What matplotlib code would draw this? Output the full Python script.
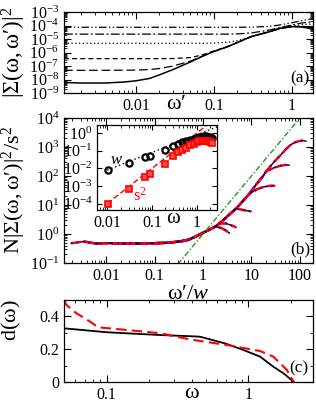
import numpy as np
import matplotlib
matplotlib.use('Agg')
from matplotlib import pyplot as plt
from matplotlib import ticker

plt.rcParams['font.family'] = ['Liberation Serif', 'DejaVu Serif']
plt.rcParams['mathtext.fontset'] = 'custom'
plt.rcParams['mathtext.rm'] = 'Liberation Serif'
plt.rcParams['mathtext.it'] = 'Liberation Serif:italic'
plt.rcParams['mathtext.bf'] = 'Liberation Serif:bold'

# ---------------- panel (a): |Sigma(w,w')|^2 vs w'
a_x = [0.0012, 0.002, 0.004, 0.007, 0.01, 0.015, 0.02, 0.03, 0.05, 0.07,
       0.1, 0.15, 0.2, 0.3, 0.5, 0.7, 1.0, 1.3, 1.6, 1.9]
a_solid = [6e-9, 5.5e-9, 5.5e-9, 6.5e-9, 8e-9, 1.2e-8, 2.2e-8, 5.5e-8, 2e-7, 5e-7,
           1.2e-6, 2.7e-6, 5.5e-6, 1.5e-5, 3.3e-5, 6e-5, 8.2e-5, 8e-5, 6.5e-5, 5e-5]
a_ldash = [4.8e-8, 4.8e-8, 4.8e-8, 4.9e-8, 5e-8, 5.5e-8, 6.5e-8, 1e-7, 2.3e-7, 5.2e-7,
           1.2e-6, 2.7e-6, 5.5e-6, 1.5e-5, 3.3e-5, 6e-5, 8.2e-5, 8.2e-5, 7e-5, 6e-5]
a_dash = [3.5e-7, 3.5e-7, 3.5e-7, 3.5e-7, 3.5e-7, 3.5e-7, 3.5e-7, 3.6e-7, 4.2e-7, 6.5e-7,
          1.3e-6, 2.8e-6, 5.6e-6, 1.5e-5, 3.4e-5, 6.2e-5, 8.5e-5, 8.8e-5, 8e-5, 7e-5]
a_dot = [4.8e-6, 4.8e-6, 4.8e-6, 4.8e-6, 4.8e-6, 4.8e-6, 4.8e-6, 4.8e-6, 4.8e-6, 4.8e-6,
         5e-6, 5.8e-6, 7.5e-6, 1.5e-5, 3.4e-5, 6.2e-5, 9.5e-5, 1.15e-4, 1.25e-4, 1.3e-4]
a_dashdot = [2.3e-5, 2.3e-5, 2.3e-5, 2.3e-5, 2.3e-5, 2.3e-5, 2.3e-5, 2.3e-5, 2.3e-5, 2.3e-5,
             2.3e-5, 2.3e-5, 2.4e-5, 2.8e-5, 4.5e-5, 7e-5, 1.1e-4, 1.5e-4, 1.75e-4, 1.9e-4]
a_dashdotdot = [7.4e-5, 7.4e-5, 7.4e-5, 7.4e-5, 7.4e-5, 7.4e-5, 7.4e-5, 7.4e-5, 7.4e-5, 7.4e-5,
                7.4e-5, 7.4e-5, 7.4e-5, 7.6e-5, 8.5e-5, 1.1e-4, 1.6e-4, 2.2e-4, 2.8e-4, 3.4e-4]

# ---------------- panel (b): scaling collapse
main_x = [0.0019, 0.0035, 0.006, 0.01, 0.02, 0.05, 0.1, 0.2, 0.35, 0.5, 0.72, 1.0, 1.4,
          1.85, 2.5, 3.5, 5.0, 6.6, 9.0, 12.4, 17, 23, 30, 41, 52, 65, 80, 97, 115, 133]
main_y = [0.48, 0.55, 0.47, 0.48, 0.47, 0.47, 0.48, 0.5, 0.56, 0.63, 0.83, 1.1, 1.45,
          1.85, 2.8, 4.7, 8.0, 13.5, 24, 50, 95, 190, 320, 550, 850, 1200, 1450, 1600, 1650, 1580]
curve_start = [0.08, 0.04, 0.018, 0.006, 0.003, 0.0019]
curve_split = [None, 20, 9, 4.8, 2.2, 1.8]
tail_x = [[], [20, 30, 40, 50, 60], [9, 13, 18, 24, 30], [4.8, 6, 7.7, 9.8],
          [2.2, 3.0, 3.8, 4.8], [1.8, 2.4, 3.0, 3.5]]
tail_y = [[], [145, 195, 225, 240, 235], [24, 35, 42, 46, 46], [7.5, 7.0, 6.4, 6.0],
          [2.3, 2.3, 2.0, 1.7], [1.8, 1.6, 1.3, 1.07]]
slope2_x = [0.3, 100]
slope2_y = [0.09, 1e4]

# inset: w and s^2 vs omega
w_om = [0.0105, 0.031, 0.069, 0.091, 0.195, 0.30, 0.39, 0.48, 0.58, 0.7, 0.85, 1.0,
        1.15, 1.3, 1.45, 1.6, 1.8, 2.0, 2.2]
w_val = [0.0077, 0.020, 0.043, 0.052, 0.107, 0.18, 0.25, 0.30, 0.35, 0.42, 0.48, 0.55,
         0.6, 0.64, 0.66, 0.65, 0.62, 0.58, 0.55]
s2_val = [1e-4, 6.8e-4, 3.2e-3, 4.8e-3, 0.018, 0.049, 0.083, 0.11, 0.15, 0.2, 0.25, 0.3,
          0.34, 0.37, 0.38, 0.37, 0.34, 0.3, 0.27]
fit_om = [0.01, 3.0]
w_fit = [0.008, 2.4]
s2_fit = [1e-4, 9.0]

# ---------------- panel (c): d(omega)
c_om_black = [0.05, 0.1, 0.24, 0.44, 0.46, 0.68, 0.9, 1.21, 1.5, 1.8, 2.1]
c_d_black = [0.328, 0.304, 0.287, 0.278, 0.276, 0.237, 0.2, 0.156, 0.095, 0.05, 0.0]
c_om_red = [0.05, 0.052, 0.061, 0.076, 0.087, 0.138, 0.24, 0.31, 0.41, 0.70, 1.21, 1.5,
            1.87, 2.1]
c_d_red = [0.5, 0.47, 0.42, 0.37, 0.334, 0.318, 0.298, 0.277, 0.257, 0.227, 0.19, 0.156,
           0.075, 0.0]


def style_log(ax, labelsize=11.5):
	ax.tick_params(which='both', direction='in', top=True, right=True, labelsize=labelsize)
	ax.tick_params(which='major', length=5, width=0.8)
	ax.tick_params(which='minor', length=2.5, width=0.6)
	for s in ax.spines.values():
		s.set_linewidth(0.9)


fig = plt.figure(figsize=(3.16, 4.03), dpi=100)

# (a)
ax = fig.add_axes([0.2025, 0.7692, 0.788, 0.201])
ax.set_xscale('log')
ax.set_yscale('log')
ax.plot(a_x, a_dashdotdot, color='k', lw=0.9, ls=(0, (6, 2, 1, 2, 1, 2)))
ax.plot(a_x, a_dashdot, color='k', lw=0.9, ls=(0, (7, 2, 1.5, 2)))
ax.plot(a_x, a_dot, color='k', lw=0.9, ls=(0, (1, 2)))
ax.plot(a_x, a_dash, color='k', lw=0.9, ls=(0, (4, 2.5)))
ax.plot(a_x, a_ldash, color='k', lw=0.9, ls=(0, (7, 3)))
ax.plot(a_x, a_solid, color='k', lw=1.1)
ax.set_xlim(0.0012, 1.86)
ax.set_ylim(1e-9, 1e-3)
ax.yaxis.set_major_locator(ticker.LogLocator(base=10, numticks=100))
ax.yaxis.set_minor_locator(ticker.LogLocator(base=10, subs=np.arange(2, 10), numticks=100))
ax.set_xticks([0.01, 0.1, 1], ['0.01', '0.1', '1'])
ax.xaxis.set_minor_locator(ticker.LogLocator(base=10, subs=np.arange(2, 10), numticks=100))
ax.xaxis.set_minor_formatter(ticker.NullFormatter())
ax.yaxis.set_minor_formatter(ticker.NullFormatter())
style_log(ax)
ax.set_ylabel(r'$\mathrm{|Σ(ω,ω′)|}^2$', fontsize=16.5, labelpad=1)
ax.set_xlabel(r'$\mathrm{ω′}$', fontsize=16)
ax.xaxis.set_label_coords(0.45, -0.14)
ax.xaxis.label.set_va('center')
ax.text(0.948, 0.185, '(a)', transform=ax.transAxes, ha='center', va='center', fontsize=12.5)

# (b)
ax = fig.add_axes([0.2025, 0.3474, 0.788, 0.360])
ax.set_xscale('log')
ax.set_yscale('log')
for i in range(len(curve_start)):
	mx = np.array(main_x)
	my = np.array(main_y)
	keep = mx >= curve_start[i]
	if curve_split[i] is not None:
		keep &= mx < curve_split[i]
	xs = np.concatenate([mx[keep], tail_x[i]])
	ys = np.concatenate([my[keep], tail_y[i]])
	ax.plot(xs, ys, color='k', lw=1.0)
	ax.plot(xs, ys, color='red', lw=1.8, ls=(0, (4, 1.5)))
	ax.plot(xs, ys, color='blue', lw=1.5, ls=(0, (0.6, 2.2)))
ax.plot(slope2_x, slope2_y, color='#1f9a1f', lw=1.0, ls=(0, (4, 1.5, 1, 1.5)))
ax.set_xlim(0.00135, 186)
ax.set_ylim(0.1, 1e4)
ax.set_xticks([0.01, 0.1, 1, 10, 100], ['0.01', '0.1', '1', '10', '100'])
ax.xaxis.set_minor_locator(ticker.LogLocator(base=10, subs=np.arange(2, 10), numticks=100))
ax.xaxis.set_minor_formatter(ticker.NullFormatter())
ax.yaxis.set_major_locator(ticker.LogLocator(base=10, numticks=100))
ax.yaxis.set_minor_locator(ticker.LogLocator(base=10, subs=np.arange(2, 10), numticks=100))
ax.yaxis.set_minor_formatter(ticker.NullFormatter())
style_log(ax)
ax.set_ylabel(r'$\mathrm{N|Σ(ω,ω′)|}^2\mathrm{/s}^2$', fontsize=16, labelpad=1)
ax.set_xlabel(r'$\mathrm{ω′/}w$', fontsize=16, labelpad=1)
ax.text(0.948, 0.097, '(b)', transform=ax.transAxes, ha='center', va='center', fontsize=12.5)

# inset
ins = fig.add_axes([0.308, 0.4797, 0.378, 0.2094])
ins.set_xscale('log')
ins.set_yscale('log')
ins.plot(fit_om, w_fit, color='k', lw=1.0, ls=(0, (1, 2)))
ins.plot(fit_om, s2_fit, color='red', lw=1.0, ls=(0, (4, 2)))
ins.plot(w_om, w_val, ls='none', marker='o', ms=4.5, mfc='none', mec='k', mew=1.6)
ins.plot(w_om, s2_val, ls='none', marker='s', ms=4.2, mfc='#ff5050', mec='red', mew=1.2)
ins.set_xlim(0.006, 2.8)
ins.set_ylim(4.5e-5, 2.8)
ins.set_xticks([0.01, 0.1, 1], ['0.01', '0.1', '1'])
ins.xaxis.set_minor_locator(ticker.LogLocator(base=10, subs=np.arange(2, 10), numticks=100))
ins.xaxis.set_minor_formatter(ticker.NullFormatter())
ins.set_yticks([1e-4, 1e-3, 1e-2, 1e-1, 1])
ins.yaxis.set_major_formatter(ticker.LogFormatterSciNotation())
ins.yaxis.set_minor_locator(ticker.NullLocator())
style_log(ins)
ins.tick_params(which='major', length=3.5)
ins.text(0.016, 0.03, '$w$', color='k', fontsize=12, ha='center', va='center')
ins.text(0.054, 2.7e-4, r'$\mathrm{s}^2$', color='red', fontsize=12, ha='center', va='center')
ins.set_xlabel(r'$\mathrm{ω}$', fontsize=15)
ins.xaxis.set_label_coords(0.634, -0.11)
ins.xaxis.label.set_va('center')

# (c)
ax = fig.add_axes([0.2025, 0.0514, 0.788, 0.2042])
ax.set_xscale('log')
ax.plot(c_om_black, c_d_black, color='k', lw=1.3)
ax.plot(c_om_red, c_d_red, color='red', lw=1.5, ls=(0, (5, 2.5)))
ax.set_xlim(0.05, 2.86)
ax.set_ylim(0, 0.5)
ax.set_xticks([0.1, 1], ['0.1', '1'])
ax.xaxis.set_minor_locator(ticker.LogLocator(base=10, subs=np.arange(2, 10), numticks=100))
ax.xaxis.set_minor_formatter(ticker.NullFormatter())
ax.set_yticks([0, 0.2, 0.4], ['0', '0.2', '0.4'])
ax.yaxis.set_minor_locator(ticker.MultipleLocator(0.1))
style_log(ax)
ax.set_ylabel(r'$\mathrm{d(ω)}$', fontsize=16)
ax.yaxis.set_label_coords(-0.165, 0.75)
ax.set_xlabel(r'$\mathrm{ω}$', fontsize=16)
ax.xaxis.set_label_coords(0.514, -0.14)
ax.xaxis.label.set_va('center')
ax.text(0.944, 0.174, '(c)', transform=ax.transAxes, ha='center', va='center', fontsize=12.5)

fig.savefig('out.png', dpi=100)
